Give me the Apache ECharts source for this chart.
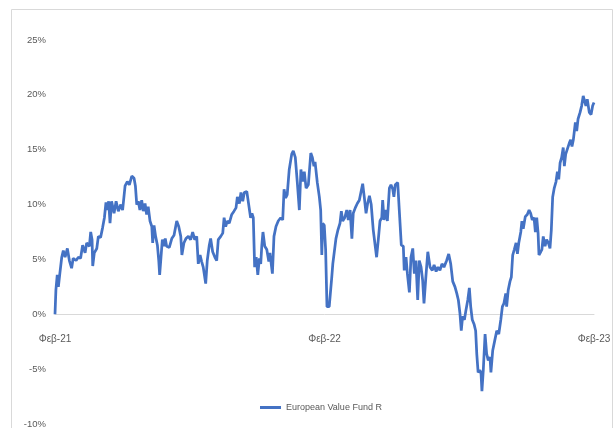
<!DOCTYPE html>
<html>
<head>
<meta charset="utf-8">
<script src="https://cdn.jsdelivr.net/npm/echarts@6/dist/echarts.min.js"></script>
<style>
html,body{margin:0;padding:0;background:#fff;}
#chart{width:615px;height:428px;}
</style>
</head>
<body>
<div id="chart"></div>
<script>
// x positions: months since Feb-21
const monthOffset = [
0,0.04,0.10,0.15,0.22,0.30,0.37,0.45,0.55,0.64,0.74,0.81,0.94,1.04,1.14,1.23,1.34,1.41,1.53,1.59,1.65,1.68,1.75,1.86,1.93,2.03,2.12,2.20,2.27,2.33,2.39,2.45,2.52,2.63,2.72,2.82,2.93,3.01,3.12,3.22,3.31,3.42,3.52,3.58,3.64,3.71,3.78,3.86,3.93,4.01,4.08,4.15,4.23,4.31,4.35,4.41,4.48,4.56,4.62,4.66,4.72,4.78,4.85,4.91,4.97,5.09,5.20,5.30,5.42,5.51,5.60,5.65,5.74,5.83,5.94,6.04,6.13,6.22,6.31,6.38,6.46,6.53,6.60,6.71,6.78,6.87,6.93,7.02,7.12,7.20,7.27,7.38,7.47,7.53,7.60,7.67,7.76,7.87,7.97,8.06,8.12,8.21,8.28,8.36,8.43,8.54,8.62,8.71,8.77,8.83,8.89,8.96,9.03,9.10,9.16,9.21,9.26,9.34,9.43,9.52,9.57,9.68,9.75,9.84,9.94,10.05,10.14,10.20,10.27,10.34,10.43,10.54,10.61,10.70,10.79,10.88,10.95,11.03,11.10,11.18,11.28,11.39,11.46,11.53,11.58,11.68,11.77,11.83,11.88,11.92,11.99,12.05,12.11,12.21,12.32,12.37,12.45,12.51,12.60,12.69,12.75,12.81,12.90,12.99,13.06,13.14,13.22,13.28,13.37,13.46,13.55,13.63,13.70,13.77,13.85,13.92,14.00,14.08,14.17,14.26,14.32,14.40,14.47,14.55,14.59,14.65,14.73,14.80,14.89,14.96,15.04,15.09,15.15,15.26,15.33,15.42,15.51,15.55,15.63,15.69,15.78,15.85,15.93,16.00,16.07,16.15,16.22,16.30,16.37,16.43,16.51,16.60,16.70,16.80,16.88,16.97,17.05,17.14,17.23,17.32,17.44,17.53,17.62,17.71,17.81,17.89,17.96,18.03,18.09,18.15,18.23,18.30,18.38,18.45,18.51,18.58,18.66,18.73,18.78,18.84,18.92,18.97,19.01,19.07,19.15,19.22,19.29,19.37,19.41,19.49,19.58,19.67,19.76,19.85,19.92,19.99,20.07,20.11,20.18,20.26,20.32,20.38,20.45,20.53,20.59,20.65,20.74,20.79,20.85,20.94,21.03,21.11,21.18,21.25,21.33,21.39,21.45,21.51,21.55,21.63,21.68,21.74,21.82,21.89,21.97,22.04,22.10,22.16,22.23,22.31,22.37,22.43,22.49,22.56,22.63,22.68,22.74,22.81,22.90,22.96,23.02,23.08,23.17,23.23,23.29,23.38,23.45,23.52,23.64,23.70,23.79,23.87,23.94,24.00
];
// cumulative return, %
const fundReturn = [
0.0,2.2,3.6,2.5,3.8,5.2,5.8,5.2,6.0,4.9,4.2,5.1,4.9,5.2,5.1,6.3,5.6,6.5,6.2,7.5,6.8,4.4,5.6,6.0,7.1,7.0,7.9,8.8,10.2,9.5,10.3,8.3,10.3,9.2,10.3,9.4,10.0,9.5,11.7,12.1,11.8,12.6,12.4,11.7,10.0,10.3,9.5,10.4,9.4,10.1,9.1,9.8,8.5,8.0,6.5,8.1,7.1,6.3,4.9,3.6,5.2,6.8,6.2,6.9,6.2,6.1,6.9,7.2,8.5,8.0,7.1,5.4,6.5,6.9,7.1,6.8,7.5,6.8,7.1,4.6,5.4,4.8,4.3,2.8,4.9,6.3,6.9,5.7,5.2,4.9,6.8,7.1,7.4,8.8,8.0,8.5,8.3,9.1,9.4,9.7,10.7,10.1,11.1,10.3,11.1,11.2,11.1,8.8,9.2,8.8,4.3,5.2,3.6,5.1,4.6,6.3,7.5,6.2,5.9,4.8,5.6,3.7,7.1,8.0,8.5,8.8,8.6,11.4,10.6,10.9,13.2,14.6,14.9,14.3,12.0,9.5,13.2,12.1,13.0,11.5,11.8,14.7,14.3,13.5,13.9,12.0,10.7,9.5,5.4,8.3,8.1,5.9,0.7,0.7,3.3,4.6,4.5,6.9,7.7,8.3,9.4,8.5,8.8,9.5,8.6,9.5,6.9,9.2,9.7,10.1,10.4,10.3,11.9,10.7,9.2,10.1,10.8,10.0,7.7,6.2,5.2,6.9,8.5,8.8,10.4,8.6,9.5,8.5,11.5,11.8,11.4,10.7,11.8,12.0,9.5,6.3,6.2,4.0,5.2,3.7,2.0,5.2,6.0,3.7,4.9,1.3,4.9,4.3,3.1,1.0,3.3,5.7,4.3,4.0,4.5,3.9,4.3,4.0,4.6,4.3,4.9,5.5,4.6,3.0,2.5,1.9,1.3,0.1,-1.5,-0.2,-0.5,0.4,1.3,2.4,0.7,-0.5,-0.9,-1.5,-3.6,-5.3,-5.1,-5.4,-7.0,-5.1,-1.8,-3.6,-4.2,-3.9,-5.3,-3.3,-2.4,-1.5,-1.8,-0.5,0.7,1.0,1.9,0.7,2.2,3.0,3.4,5.4,5.9,6.5,5.5,6.5,7.5,8.5,7.8,8.9,9.1,9.5,9.2,8.6,8.8,7.5,8.8,7.4,5.4,5.7,5.9,7.1,6.2,6.8,6.5,6.0,7.7,10.7,11.5,12.1,13.0,12.3,13.8,14.3,15.2,13.5,14.6,14.7,15.6,15.9,15.3,15.9,17.5,16.7,17.8,18.4,19.0,19.9,19.0,19.6,18.4,18.2,19.0,19.3
];
const xTickLabels = {0: 'Φεβ-21', 12: 'Φεβ-22', 24: 'Φεβ-23'};
const seriesName = 'European Value Fund R';
const yMin = -10, yMax = 25, yStep = 5;

const W = 615, H = 428;
const gridTop = 40, gridBottom = 4;
const plotH = H - gridTop - gridBottom;
// shift the category axis (line + labels) up to the 0% level
const zeroOffset = plotH * (0 - yMin) / (yMax - yMin);

const chart = echarts.init(document.getElementById('chart'), null, {renderer: 'canvas'});
const font = "'Liberation Sans', Arial, sans-serif";
chart.setOption({
  animation: false,
  backgroundColor: '#fff',
  graphic: [{
    type: 'rect', silent: true, z: -1,
    shape: {x: 11.5, y: 9.5, width: 601, height: 440},
    style: {fill: 'none', stroke: '#d9d9d9', lineWidth: 1}
  }],
  grid: {left: 55, right: 21, top: gridTop, bottom: gridBottom, containLabel: false, outerBoundsMode: 'none'},
  legend: {
    data: [seriesName], top: 398, left: 255,
    icon: 'rect', itemWidth: 21, itemHeight: 3, itemGap: 4,
    textStyle: {color: '#595959', fontSize: 9, fontFamily: font}
  },
  xAxis: {
    type: 'value', min: 0, max: 24, interval: 12,
    offset: -zeroOffset,
    axisLine: {onZero: false, lineStyle: {color: '#d9d9d9', width: 1}},
    axisTick: {show: false},
    splitLine: {show: false},
    axisLabel: {
      margin: 20, color: '#595959', fontSize: 10, fontFamily: font,
      formatter: v => xTickLabels[v] || ''
    }
  },
  yAxis: {
    type: 'value', min: yMin, max: yMax, interval: yStep,
    axisLine: {show: false}, axisTick: {show: false},
    splitLine: {show: false},
    axisLabel: {margin: 9, color: '#595959', fontSize: 9.5, fontFamily: font, formatter: v => v + '%'}
  },
  series: [{
    name: seriesName, type: 'line', showSymbol: false, symbol: 'none',
    data: monthOffset.map((m, i) => [m, fundReturn[i]]),
    lineStyle: {color: '#4472c4', width: 2.75},
    itemStyle: {color: '#4472c4'}
  }]
});
</script>
</body>
</html>
